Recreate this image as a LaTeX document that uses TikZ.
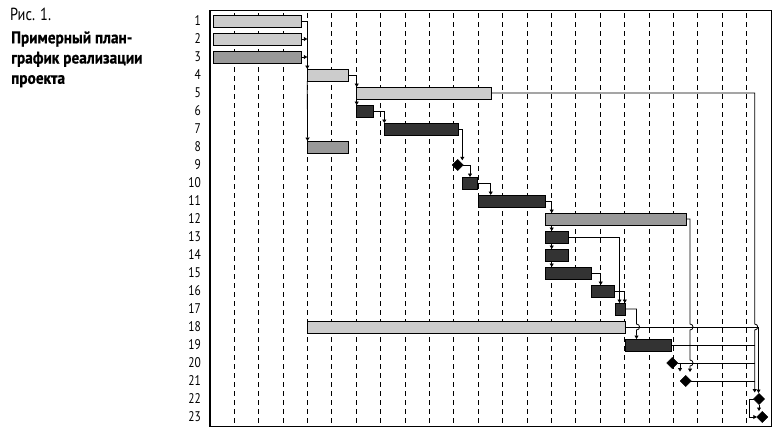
\documentclass[tikz,border=0pt]{standalone}
\usepackage{fontspec}
\setmainfont{PT Sans}[FakeStretch=0.82]
\newfontfamily\titlefam{PT Sans Bold}[FakeStretch=0.9, FakeBold=0.6]
\usetikzlibrary{arrows.meta,shapes.geometric}
\definecolor{lightg}{RGB}{204,204,204}
\definecolor{midg}{RGB}{153,153,153}
\definecolor{darkg}{RGB}{51,51,51}
\newcommand{\myfig}{\fontsize{17.5}{20}\selectfont}
\newcommand{\mytitle}{\titlefam\fontsize{17}{20}\selectfont}
\newcommand{\mynum}{\fontsize{14}{16}\selectfont}
\pgfdeclarelayer{bg}
\pgfsetlayers{bg,main}
\tikzset{
  bar/.style={draw=black, line width=0.9pt, minimum height=12pt, inner sep=0pt, outer sep=0pt, anchor=west},
  lt/.style={bar, fill=lightg},
  md/.style={bar, fill=midg},
  dk/.style={bar, fill=darkg},
  ms/.style={diamond, fill=black, draw=black, line width=0.5pt, inner sep=0pt, outer sep=0pt, minimum size=11pt},
  link/.style={line width=0.8pt, -{Triangle[length=3.5pt,width=4pt]}},
  plainlink/.style={line width=0.8pt},
  gridline/.style={line width=1pt, dash pattern=on 4.7pt off 4.3pt},
  frameline/.style={line width=1.2pt},
  rowlab/.style={anchor=east, font=\mynum, inner sep=0pt},
  ttl/.style={anchor=base west, inner sep=0pt},
}
\begin{document}
\begin{tikzpicture}[x=1pt,y=-1pt]
\useasboundingbox (0,0) rectangle (783,437);

% title
\node[ttl, font=\myfig] (fig) at (10,20.7) {Рис. 1.};
\node[ttl, font=\mytitle] (tl1) at (11,43.3) {Примерный план-};
\node[ttl, font=\mytitle] (tl2) at (11,63.5) {график реализации};
\node[ttl, font=\mytitle] (tl3) at (11,83.8) {проекта};

% row labels
\foreach \i in {1,...,23} \node[rowlab] (r\i) at (201,{21+18*(\i-1)}) {\i};

% bars
\node[lt, minimum width=88.4pt] (b1) at (213.3,21) {};
\node[lt, minimum width=88.4pt] (b2) at (213.3,39) {};
\node[md, minimum width=88.4pt] (b3) at (213.3,57) {};
\node[lt, minimum width=41pt] (b4) at (307.3,75) {};
\node[lt, minimum width=135pt] (b5) at (356.7,93) {};
\node[dk, minimum width=16.6pt] (b6) at (356.7,111) {};
\node[dk, minimum width=74pt] (b7) at (384.3,129) {};
\node[md, minimum width=40.8pt] (b8) at (307.5,147) {};
\node[ms] (d9) at (457.7,165) {};
\node[dk, minimum width=15.4pt] (b10) at (462.3,183) {};
\node[dk, minimum width=67.4pt] (b11) at (478.3,201) {};
\node[md, minimum width=141pt] (b12) at (545.7,219) {};
\node[dk, minimum width=22.6pt] (b13) at (545.7,237) {};
\node[dk, minimum width=22.6pt] (b14) at (545.7,255) {};
\node[dk, minimum width=46pt] (b15) at (545.7,273) {};
\node[dk, minimum width=22.6pt] (b16) at (591.7,291) {};
\node[dk, minimum width=10pt] (b17) at (615.7,309) {};
\node[lt, minimum width=318.2pt] (b18) at (307.5,327) {};
\node[dk, minimum width=46pt] (b19) at (625.7,345) {};
\node[ms] (d20) at (672.3,363) {};
\node[ms] (d21) at (685.7,381) {};
\node[ms] (d22) at (759,399) {};
\node[ms] (d23) at (762.3,417) {};

\coordinate (t9) at (462.3,160.3);
\coordinate (t21) at (690,372);
\coordinate (t21b) at (680,371.5);
\coordinate (t22a) at (754.7,392.5);
\coordinate (t22b) at (758.5,393);
\coordinate (jx) at (754.7,93);
\coordinate (k22) at (749.3,399);
\coordinate (k23) at (749.3,417);

\begin{pgfonlayer}{bg}
% frame and grid
\draw[frameline] (209.9,10.5) rectangle (771.1,426.5);
\foreach \k in {1,...,22} \draw[gridline] ({209.9+24.4*\k},13.3) -- ({209.9+24.4*\k},426.5);

% links
\draw[link] (b1.east) -| (b4.north west);
\draw[link] (b4.south west) -- (b8.north west);
\draw[link] (b2.east) -- (b2.east -| b4.west);
\draw[link] (b3.east) -- (b3.east -| b4.west);
\draw[link] (b4.east) -| (b5.north west);
\draw[link] (b5.south west) -- (b6.north west);
\draw[link] (b6.east) -| (b7.north west);
\draw[link] (b7.east) -| (t9);
\draw[link] (d9.east) -| (b10.north);
\draw[link] (b10.east) -| ([xshift=12.4pt]b11.north west);
\draw[link] (b11.east) -| ([xshift=6pt]b12.north west);
\draw[link] ([xshift=6pt]b12.south west) -- ([xshift=6pt]b13.north west);
\draw[link] ([xshift=6pt]b13.south west) -- ([xshift=6pt]b14.north west);
\draw[link] ([xshift=6pt]b14.south west) -- ([xshift=6pt]b15.north west);
\draw[link] (b13.east) -| ([xshift=3.8pt]b17.north west);
\draw[link] (b15.east) -| ([xshift=9pt]b16.north west);
\draw[link] (b16.east) -| ([xshift=-0.9pt]b17.north east);
\draw[link] (b17.east) -- (636.5,309) -- (636.5,324) .. controls (640.5,324) and (640.5,330) .. (636.5,330) -- ([xshift=10.8pt]b19.north west);
\draw[link] (b12.east) -- (690,219) -- (690,324) .. controls (694,324) and (694,330) .. (690,330) -- (690,360) .. controls (694,360) and (694,366) .. (690,366) -- (t21);
\draw[link] (b5.east) -- (jx) -- (754.7,324) .. controls (758.7,324) and (758.7,330) .. (754.7,330) -- (t22a);
\draw[link] (b18.east) -- (758.5,327) -- (t22b);
\draw[plainlink] (b19.east) -- (b19.east -| jx);
\draw[plainlink] (d20.east) -- (d20.east -| jx);
\draw[link] (d20.east) -| (t21b);
\draw[plainlink] (d21.east) -- (d21.east -| jx);
\draw[link] (d22.west) -- (k22) -- (k23) -- (d23.west);
\draw[link] (d22.south) -- (759,411);
\end{pgfonlayer}
\end{tikzpicture}
\end{document}
